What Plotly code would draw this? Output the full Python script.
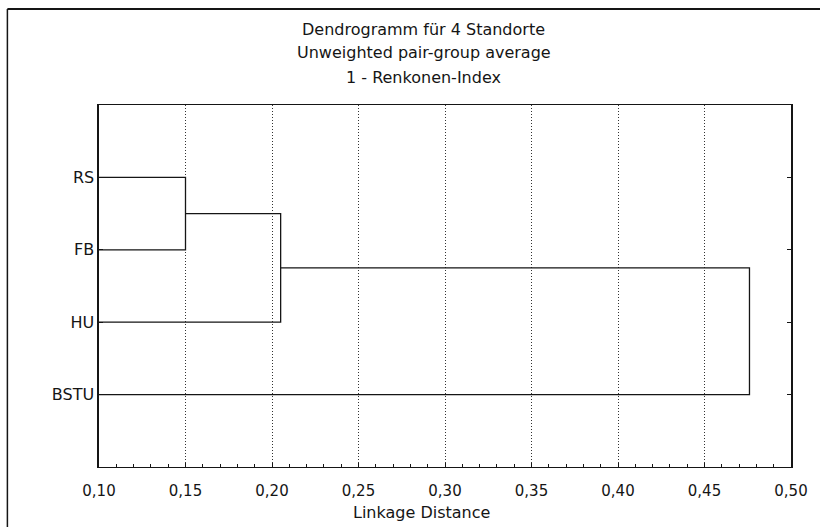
import plotly.graph_objects as go

# ---- data ----
leaf_labels = ["RS", "FB", "HU", "BSTU"]
link_a = ["RS", "C1", "C2"]
link_b = ["FB", "HU", "BSTU"]
link_dist = [0.15, 0.205, 0.476]
x_ticks = [0.10, 0.15, 0.20, 0.25, 0.30, 0.35, 0.40, 0.45, 0.50]
title_lines = ["Dendrogramm für 4 Standorte", "Unweighted pair-group average", "1 - Renkonen-Index"]
x_title = "Linkage Distance"

W, H = 820, 527
ML, MR, MT, MB = 99, 26, 105, 60
PW, PH = W - ML - MR, H - MT - MB

def px_x(px):
    return (px - ML) / PW

def px_y(py):
    return (H - MB - py) / PH

FONT = "DejaVu Sans, Liberation Sans, Arial, sans-serif"
INK = "#151515"

pos = {lab: i + 1 for i, lab in enumerate(leaf_labels)}
height = {lab: 0.0 for lab in leaf_labels}

fig = go.Figure()
for k, (a, b, d) in enumerate(zip(link_a, link_b, link_dist)):
    xs = [height[a], d, d, height[b]]
    ys = [pos[a], pos[a], pos[b], pos[b]]
    fig.add_trace(go.Scatter(x=xs, y=ys, mode="lines",
                             line=dict(color=INK, width=1.3),
                             hoverinfo="skip", showlegend=False))
    name = f"C{k + 1}"
    pos[name] = (pos[a] + pos[b]) / 2
    height[name] = d

# title lines
for text, py in zip(title_lines, [29, 53, 77]):
    fig.add_annotation(text=text, xref="paper", yref="paper",
                       x=px_x(425), y=px_y(py), xanchor="center", yanchor="middle",
                       showarrow=False, font=dict(family=FONT, size=16, color=INK))

fig.add_annotation(text=x_title, xref="paper", yref="paper",
                   x=px_x(423), y=px_y(512), xanchor="center", yanchor="middle",
                   showarrow=False, font=dict(family=FONT, size=16, color=INK))

# outer frame (top and left edges visible)
fig.add_shape(type="line", xref="paper", yref="paper",
              x0=px_x(7), y0=px_y(9), x1=px_x(830), y1=px_y(9),
              line=dict(color=INK, width=2))
fig.add_shape(type="line", xref="paper", yref="paper",
              x0=px_x(7), y0=px_y(9), x1=px_x(7), y1=px_y(540),
              line=dict(color=INK, width=1.5))

fig.update_layout(
    width=W, height=H,
    margin=dict(l=ML, r=MR, t=MT, b=MB),
    paper_bgcolor="white", plot_bgcolor="white",
    separators=",.",
    font=dict(family=FONT, size=15, color=INK),
    xaxis=dict(range=[x_ticks[0], x_ticks[-1]], tickvals=x_ticks, tickformat=".2f",
               showgrid=True, gridcolor="#333333", gridwidth=1, griddash="1px,2px",
               zeroline=False, showline=True, linecolor=INK, linewidth=1.3, mirror=True,
               ticks="inside", ticklen=4, tickcolor=INK,
               minor=dict(dtick=0.01, ticks="inside", ticklen=3, tickcolor=INK, showgrid=False),
               ticklabelstandoff=10,
               tickfont=dict(family=FONT, size=15, color=INK)),
    yaxis=dict(range=[len(leaf_labels) + 1, 0], tickvals=[pos[l] for l in leaf_labels],
               ticktext=leaf_labels, showgrid=False, zeroline=False,
               showline=True, linecolor=INK, linewidth=1.6, mirror="ticks",
               ticks="inside", ticklen=4, tickcolor=INK,
               tickfont=dict(family=FONT, size=16, color=INK)),
)

fig.write_html("out.html",
               config={"displayModeBar": False, "staticPlot": True},
               post_script="document.body.style.margin='0';document.body.style.overflow='hidden';")
